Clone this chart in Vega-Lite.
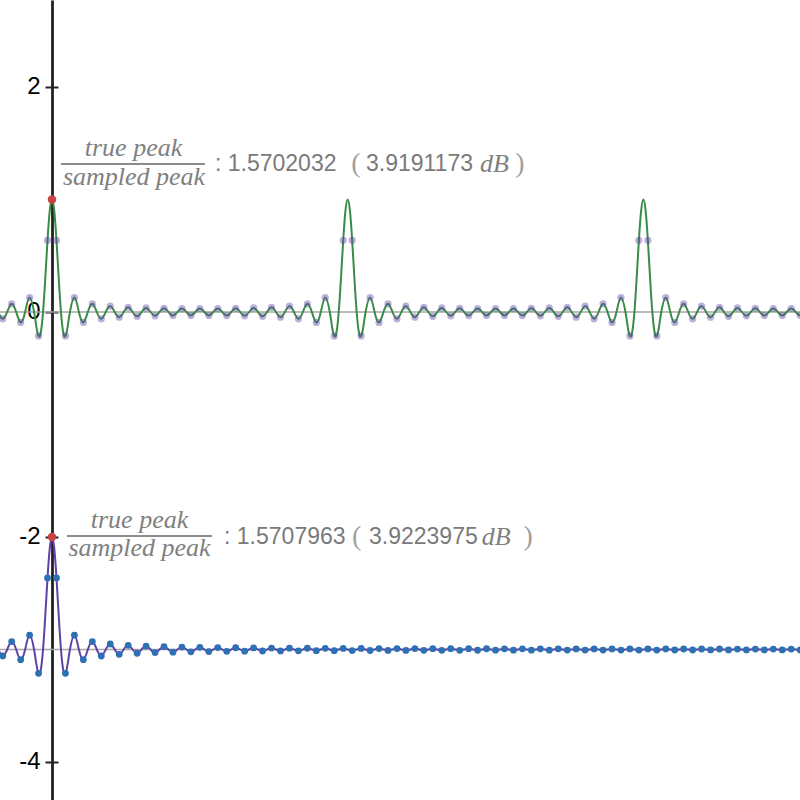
{
"$schema": "https://vega.github.io/schema/vega-lite/v6.json",
"width": 800, "height": 800, "padding": 0, "autosize": {"type": "none"},
"background": "white",
"view": {"stroke": null},
"datasets": {
"green": [{"t":-6,"y":0},{"t":-5.5,"y":-0.0606,"k":1},{"t":-5,"y":0},{"t":-4.5,"y":0.073,"k":1},{"t":-4,"y":0},{"t":-3.5,"y":-0.0927,"k":1},{"t":-3,"y":0},{"t":-2.5,"y":0.1285,"k":1},{"t":-2,"y":0},{"t":-1.75,"y":-0.1292},{"t":-1.5,"y":-0.2129,"k":1},{"t":-1.25,"y":-0.1805},{"t":-1,"y":0},{"t":-0.75,"y":0.3004},{"t":-0.5,"y":0.6369,"k":1},{"t":-0.25,"y":0.9004},{"t":0,"y":1},{"t":0.25,"y":0.9004},{"t":0.5,"y":0.6369,"k":1},{"t":0.75,"y":0.3004},{"t":1,"y":0},{"t":1.25,"y":-0.1805},{"t":1.5,"y":-0.2129,"k":1},{"t":1.75,"y":-0.1292},{"t":2,"y":0},{"t":2.5,"y":0.1285,"k":1},{"t":3,"y":0},{"t":3.5,"y":-0.0927,"k":1},{"t":4,"y":0},{"t":4.5,"y":0.073,"k":1},{"t":5,"y":0},{"t":5.5,"y":-0.0606,"k":1},{"t":6,"y":0},{"t":6.5,"y":0.0522,"k":1},{"t":7,"y":0},{"t":7.5,"y":-0.0463,"k":1},{"t":8,"y":0},{"t":8.5,"y":0.0419,"k":1},{"t":9,"y":0},{"t":9.5,"y":-0.0386,"k":1},{"t":10,"y":0},{"t":10.5,"y":0.036,"k":1},{"t":11,"y":0},{"t":11.5,"y":-0.0341,"k":1},{"t":12,"y":0},{"t":12.5,"y":0.0326,"k":1},{"t":13,"y":0},{"t":13.5,"y":-0.0316,"k":1},{"t":14,"y":0},{"t":14.5,"y":0.0309,"k":1},{"t":15,"y":0},{"t":15.5,"y":-0.0304,"k":1},{"t":16,"y":0},{"t":16.5,"y":0.0303,"k":1},{"t":17,"y":0},{"t":17.5,"y":-0.0304,"k":1},{"t":18,"y":0},{"t":18.5,"y":0.0309,"k":1},{"t":19,"y":0},{"t":19.5,"y":-0.0316,"k":1},{"t":20,"y":0},{"t":20.5,"y":0.0326,"k":1},{"t":21,"y":0},{"t":21.5,"y":-0.0341,"k":1},{"t":22,"y":0},{"t":22.5,"y":0.036,"k":1},{"t":23,"y":0},{"t":23.5,"y":-0.0386,"k":1},{"t":24,"y":0},{"t":24.5,"y":0.0419,"k":1},{"t":25,"y":0},{"t":25.5,"y":-0.0463,"k":1},{"t":26,"y":0},{"t":26.5,"y":0.0522,"k":1},{"t":27,"y":0},{"t":27.5,"y":-0.0606,"k":1},{"t":28,"y":0},{"t":28.5,"y":0.073,"k":1},{"t":29,"y":0},{"t":29.5,"y":-0.0927,"k":1},{"t":30,"y":0},{"t":30.5,"y":0.1285,"k":1},{"t":31,"y":0},{"t":31.25,"y":-0.1292},{"t":31.5,"y":-0.2129,"k":1},{"t":31.75,"y":-0.1805},{"t":32,"y":0},{"t":32.25,"y":0.3004},{"t":32.5,"y":0.6369,"k":1},{"t":32.75,"y":0.9004},{"t":33,"y":1},{"t":33.25,"y":0.9004},{"t":33.5,"y":0.6369,"k":1},{"t":33.75,"y":0.3004},{"t":34,"y":0},{"t":34.25,"y":-0.1805},{"t":34.5,"y":-0.2129,"k":1},{"t":34.75,"y":-0.1292},{"t":35,"y":0},{"t":35.5,"y":0.1285,"k":1},{"t":36,"y":0},{"t":36.5,"y":-0.0927,"k":1},{"t":37,"y":0},{"t":37.5,"y":0.073,"k":1},{"t":38,"y":0},{"t":38.5,"y":-0.0606,"k":1},{"t":39,"y":0},{"t":39.5,"y":0.0522,"k":1},{"t":40,"y":0},{"t":40.5,"y":-0.0463,"k":1},{"t":41,"y":0},{"t":41.5,"y":0.0419,"k":1},{"t":42,"y":0},{"t":42.5,"y":-0.0386,"k":1},{"t":43,"y":0},{"t":43.5,"y":0.036,"k":1},{"t":44,"y":0},{"t":44.5,"y":-0.0341,"k":1},{"t":45,"y":0},{"t":45.5,"y":0.0326,"k":1},{"t":46,"y":0},{"t":46.5,"y":-0.0316,"k":1},{"t":47,"y":0},{"t":47.5,"y":0.0309,"k":1},{"t":48,"y":0},{"t":48.5,"y":-0.0304,"k":1},{"t":49,"y":0},{"t":49.5,"y":0.0303,"k":1},{"t":50,"y":0},{"t":50.5,"y":-0.0304,"k":1},{"t":51,"y":0},{"t":51.5,"y":0.0309,"k":1},{"t":52,"y":0},{"t":52.5,"y":-0.0316,"k":1},{"t":53,"y":0},{"t":53.5,"y":0.0326,"k":1},{"t":54,"y":0},{"t":54.5,"y":-0.0341,"k":1},{"t":55,"y":0},{"t":55.5,"y":0.036,"k":1},{"t":56,"y":0},{"t":56.5,"y":-0.0386,"k":1},{"t":57,"y":0},{"t":57.5,"y":0.0419,"k":1},{"t":58,"y":0},{"t":58.5,"y":-0.0463,"k":1},{"t":59,"y":0},{"t":59.5,"y":0.0522,"k":1},{"t":60,"y":0},{"t":60.5,"y":-0.0606,"k":1},{"t":61,"y":0},{"t":61.5,"y":0.073,"k":1},{"t":62,"y":0},{"t":62.5,"y":-0.0927,"k":1},{"t":63,"y":0},{"t":63.5,"y":0.1285,"k":1},{"t":64,"y":0},{"t":64.25,"y":-0.1292},{"t":64.5,"y":-0.2129,"k":1},{"t":64.75,"y":-0.1805},{"t":65,"y":0},{"t":65.25,"y":0.3004},{"t":65.5,"y":0.6369,"k":1},{"t":65.75,"y":0.9004},{"t":66,"y":1},{"t":66.25,"y":0.9004},{"t":66.5,"y":0.6369,"k":1},{"t":66.75,"y":0.3004},{"t":67,"y":0},{"t":67.25,"y":-0.1805},{"t":67.5,"y":-0.2129,"k":1},{"t":67.75,"y":-0.1292},{"t":68,"y":0},{"t":68.5,"y":0.1285,"k":1},{"t":69,"y":0},{"t":69.5,"y":-0.0927,"k":1},{"t":70,"y":0},{"t":70.5,"y":0.073,"k":1},{"t":71,"y":0},{"t":71.5,"y":-0.0606,"k":1},{"t":72,"y":0},{"t":72.5,"y":0.0522,"k":1},{"t":73,"y":0},{"t":73.5,"y":-0.0463,"k":1},{"t":74,"y":0},{"t":74.5,"y":0.0419,"k":1},{"t":75,"y":0},{"t":75.5,"y":-0.0386,"k":1},{"t":76,"y":0},{"t":76.5,"y":0.036,"k":1},{"t":77,"y":0},{"t":77.5,"y":-0.0341,"k":1},{"t":78,"y":0},{"t":78.5,"y":0.0326,"k":1},{"t":79,"y":0},{"t":79.5,"y":-0.0316,"k":1},{"t":80,"y":0},{"t":80.5,"y":0.0309,"k":1},{"t":81,"y":0},{"t":81.5,"y":-0.0304,"k":1},{"t":82,"y":0},{"t":82.5,"y":0.0303,"k":1},{"t":83,"y":0},{"t":83.5,"y":-0.0304,"k":1},{"t":84,"y":0}],
"blue": [{"t":-6,"y":-3},{"t":-5.5,"y":-3.0579,"k":1},{"t":-5,"y":-3},{"t":-4.5,"y":-2.9293,"k":1},{"t":-4,"y":-3},{"t":-3.5,"y":-3.0909,"k":1},{"t":-3,"y":-3},{"t":-2.5,"y":-2.8727,"k":1},{"t":-2,"y":-3},{"t":-1.75,"y":-3.1286},{"t":-1.5,"y":-3.2122,"k":1},{"t":-1.25,"y":-3.1801},{"t":-1,"y":-3},{"t":-0.75,"y":-2.6999},{"t":-0.5,"y":-2.3634,"k":1},{"t":-0.25,"y":-2.0997},{"t":0,"y":-2},{"t":0.25,"y":-2.0997},{"t":0.5,"y":-2.3634,"k":1},{"t":0.75,"y":-2.6999},{"t":1,"y":-3},{"t":1.25,"y":-3.1801},{"t":1.5,"y":-3.2122,"k":1},{"t":1.75,"y":-3.1286},{"t":2,"y":-3},{"t":2.5,"y":-2.8727,"k":1},{"t":3,"y":-3},{"t":3.5,"y":-3.0909,"k":1},{"t":4,"y":-3},{"t":4.5,"y":-2.9293,"k":1},{"t":5,"y":-3},{"t":5.5,"y":-3.0579,"k":1},{"t":6,"y":-3},{"t":6.5,"y":-2.951,"k":1},{"t":7,"y":-3},{"t":7.5,"y":-3.0424,"k":1},{"t":8,"y":-3},{"t":8.5,"y":-2.9626,"k":1},{"t":9,"y":-3},{"t":9.5,"y":-3.0335,"k":1},{"t":10,"y":-3},{"t":10.5,"y":-2.9697,"k":1},{"t":11,"y":-3},{"t":11.5,"y":-3.0277,"k":1},{"t":12,"y":-3},{"t":12.5,"y":-2.9745,"k":1},{"t":13,"y":-3},{"t":13.5,"y":-3.0236,"k":1},{"t":14,"y":-3},{"t":14.5,"y":-2.978,"k":1},{"t":15,"y":-3},{"t":15.5,"y":-3.0205,"k":1},{"t":16,"y":-3},{"t":16.5,"y":-2.9807,"k":1},{"t":17,"y":-3},{"t":17.5,"y":-3.0182,"k":1},{"t":18,"y":-3},{"t":18.5,"y":-2.9828,"k":1},{"t":19,"y":-3},{"t":19.5,"y":-3.0163,"k":1},{"t":20,"y":-3},{"t":20.5,"y":-2.9845,"k":1},{"t":21,"y":-3},{"t":21.5,"y":-3.0148,"k":1},{"t":22,"y":-3},{"t":22.5,"y":-2.9859,"k":1},{"t":23,"y":-3},{"t":23.5,"y":-3.0135,"k":1},{"t":24,"y":-3},{"t":24.5,"y":-2.987,"k":1},{"t":25,"y":-3},{"t":25.5,"y":-3.0125,"k":1},{"t":26,"y":-3},{"t":26.5,"y":-2.988,"k":1},{"t":27,"y":-3},{"t":27.5,"y":-3.0116,"k":1},{"t":28,"y":-3},{"t":28.5,"y":-2.9888,"k":1},{"t":29,"y":-3},{"t":29.5,"y":-3.0108,"k":1},{"t":30,"y":-3},{"t":30.5,"y":-2.9896,"k":1},{"t":31,"y":-3},{"t":31.5,"y":-3.0101,"k":1},{"t":32,"y":-3},{"t":32.5,"y":-2.9902,"k":1},{"t":33,"y":-3},{"t":33.5,"y":-3.0095,"k":1},{"t":34,"y":-3},{"t":34.5,"y":-2.9908,"k":1},{"t":35,"y":-3},{"t":35.5,"y":-3.009,"k":1},{"t":36,"y":-3},{"t":36.5,"y":-2.9913,"k":1},{"t":37,"y":-3},{"t":37.5,"y":-3.0085,"k":1},{"t":38,"y":-3},{"t":38.5,"y":-2.9917,"k":1},{"t":39,"y":-3},{"t":39.5,"y":-3.0081,"k":1},{"t":40,"y":-3},{"t":40.5,"y":-2.9921,"k":1},{"t":41,"y":-3},{"t":41.5,"y":-3.0077,"k":1},{"t":42,"y":-3},{"t":42.5,"y":-2.9925,"k":1},{"t":43,"y":-3},{"t":43.5,"y":-3.0073,"k":1},{"t":44,"y":-3},{"t":44.5,"y":-2.9928,"k":1},{"t":45,"y":-3},{"t":45.5,"y":-3.007,"k":1},{"t":46,"y":-3},{"t":46.5,"y":-2.9932,"k":1},{"t":47,"y":-3},{"t":47.5,"y":-3.0067,"k":1},{"t":48,"y":-3},{"t":48.5,"y":-2.9934,"k":1},{"t":49,"y":-3},{"t":49.5,"y":-3.0064,"k":1},{"t":50,"y":-3},{"t":50.5,"y":-2.9937,"k":1},{"t":51,"y":-3},{"t":51.5,"y":-3.0062,"k":1},{"t":52,"y":-3},{"t":52.5,"y":-2.9939,"k":1},{"t":53,"y":-3},{"t":53.5,"y":-3.0059,"k":1},{"t":54,"y":-3},{"t":54.5,"y":-2.9942,"k":1},{"t":55,"y":-3},{"t":55.5,"y":-3.0057,"k":1},{"t":56,"y":-3},{"t":56.5,"y":-2.9944,"k":1},{"t":57,"y":-3},{"t":57.5,"y":-3.0055,"k":1},{"t":58,"y":-3},{"t":58.5,"y":-2.9946,"k":1},{"t":59,"y":-3},{"t":59.5,"y":-3.0053,"k":1},{"t":60,"y":-3},{"t":60.5,"y":-2.9947,"k":1},{"t":61,"y":-3},{"t":61.5,"y":-3.0052,"k":1},{"t":62,"y":-3},{"t":62.5,"y":-2.9949,"k":1},{"t":63,"y":-3},{"t":63.5,"y":-3.005,"k":1},{"t":64,"y":-3},{"t":64.5,"y":-2.9951,"k":1},{"t":65,"y":-3},{"t":65.5,"y":-3.0049,"k":1},{"t":66,"y":-3},{"t":66.5,"y":-2.9952,"k":1},{"t":67,"y":-3},{"t":67.5,"y":-3.0047,"k":1},{"t":68,"y":-3},{"t":68.5,"y":-2.9954,"k":1},{"t":69,"y":-3},{"t":69.5,"y":-3.0046,"k":1},{"t":70,"y":-3},{"t":70.5,"y":-2.9955,"k":1},{"t":71,"y":-3},{"t":71.5,"y":-3.0045,"k":1},{"t":72,"y":-3},{"t":72.5,"y":-2.9956,"k":1},{"t":73,"y":-3},{"t":73.5,"y":-3.0043,"k":1},{"t":74,"y":-3},{"t":74.5,"y":-2.9957,"k":1},{"t":75,"y":-3},{"t":75.5,"y":-3.0042,"k":1},{"t":76,"y":-3},{"t":76.5,"y":-2.9958,"k":1},{"t":77,"y":-3},{"t":77.5,"y":-3.0041,"k":1},{"t":78,"y":-3},{"t":78.5,"y":-2.9959,"k":1},{"t":79,"y":-3},{"t":79.5,"y":-3.004,"k":1},{"t":80,"y":-3},{"t":80.5,"y":-2.996,"k":1},{"t":81,"y":-3},{"t":81.5,"y":-3.0039,"k":1},{"t":82,"y":-3},{"t":82.5,"y":-2.9961,"k":1},{"t":83,"y":-3},{"t":83.5,"y":-3.0038,"k":1},{"t":84,"y":-3}]
},
"encoding": {
  "x": {"field": "t", "type": "quantitative", "scale": {"domain": [-5.804, 83.48], "nice": false, "zero": false},
        "axis": {"values": [0], "grid": true, "gridColor": "#222222", "gridWidth": 2.8, "gridOpacity": 1, "labels": false, "ticks": false, "domain": false, "title": null}},
  "y": {"field": "y", "type": "quantitative", "scale": {"domain": [-4.3378, 2.7733], "nice": false, "zero": false},
        "axis": {"values": [2, 0, -2, -4], "offset": -58, "tickSize": 13, "tickWidth": 2, "tickColor": "#222222", "domain": false, "grid": false,
                 "labelFont": "Liberation Sans", "labelFontSize": 24, "labelColor": "#000000", "labelPadding": 5, "labelExpr": "'' + datum.value", "title": null}}
},
"layer": [
  {"data": {"values": [{"t": -6, "t2": 84, "y": 0}, {"t": -6, "t2": 84, "y": -3}]},
   "mark": {"type": "rule", "color": "#a6a6a6", "strokeWidth": 1.5, "clip": true},
   "encoding": {"x2": {"field": "t2"}}},
  {"data": {"name": "green"},
   "mark": {"type": "line", "color": "#388c46", "strokeWidth": 2, "interpolate": "natural", "clip": true},
   "encoding": {}},
  {"data": {"name": "blue"},
   "mark": {"type": "line", "color": "#6042a6", "strokeWidth": 2, "interpolate": "natural", "clip": true},
   "encoding": {}},
  {"data": {"name": "green"}, "transform": [{"filter": "datum.k == 1"}],
   "mark": {"type": "point", "filled": true, "color": "#6042a6", "opacity": 0.42, "size": 52, "clip": true}},
  {"data": {"name": "blue"}, "transform": [{"filter": "datum.k == 1"}],
   "mark": {"type": "point", "filled": true, "color": "#2d70b3", "opacity": 1, "size": 46, "clip": true}},
  {"data": {"values": [{"t": 0, "y": 1}, {"t": 0, "y": -2}]},
   "mark": {"type": "point", "filled": true, "color": "#c74440", "opacity": 1, "size": 72}},
  {"data": {"values": [{"t": 1.004, "t2": 17.076, "y": 1.3156}, {"t": 1.674, "t2": 17.857, "y": -1.9911}]},
   "mark": {"type": "rule", "color": "#8c8c8c", "strokeWidth": 2},
   "encoding": {"x2": {"field": "t2"}}},
  {"data": {"values": [{"t": 9.096, "y": 1.3822, "s": "true peak"}, {"t": 9.152, "y": 1.1333, "s": "sampled peak"}, {"t": 9.766, "y": -1.9156, "s": "true peak"}, {"t": 9.766, "y": -2.1689, "s": "sampled peak"}]},
   "mark": {"type": "text", "font": "Liberation Serif", "fontStyle": "italic", "fontSize": 26, "align": "center", "baseline": "alphabetic", "color": "#808080"},
   "encoding": {"text": {"field": "s"}}},
  {"data": {"values": [{"t": 18.19, "y": 1.3156, "s": ": 1.5702032"}, {"t": 35.04, "y": 1.3156, "s": "3.9191173"}, {"t": 19.2, "y": -1.997, "s": ": 1.5707963"}, {"t": 35.38, "y": -1.997, "s": "3.9223975"}]},
   "mark": {"type": "text", "font": "Liberation Sans", "fontSize": 23, "align": "left", "baseline": "middle", "color": "#7a7a7a"},
   "encoding": {"text": {"field": "s"}}},
  {"data": {"values": [{"t": 33.93, "y": 1.3156, "s": "("}, {"t": 52.23, "y": 1.3156, "s": ")"}, {"t": 34.0, "y": -1.997, "s": "("}, {"t": 53.13, "y": -1.997, "s": ")"}]},
   "mark": {"type": "text", "font": "Liberation Serif", "fontSize": 28, "align": "center", "baseline": "middle", "color": "#a0a0a0"},
   "encoding": {"text": {"field": "s"}}},
  {"data": {"values": [{"t": 47.77, "y": 1.3156, "s": "dB"}, {"t": 47.96, "y": -1.997, "s": "dB"}]},
   "mark": {"type": "text", "font": "Liberation Serif", "fontStyle": "italic", "fontSize": 26, "align": "left", "baseline": "middle", "color": "#808080"},
   "encoding": {"text": {"field": "s"}}}
]
}
